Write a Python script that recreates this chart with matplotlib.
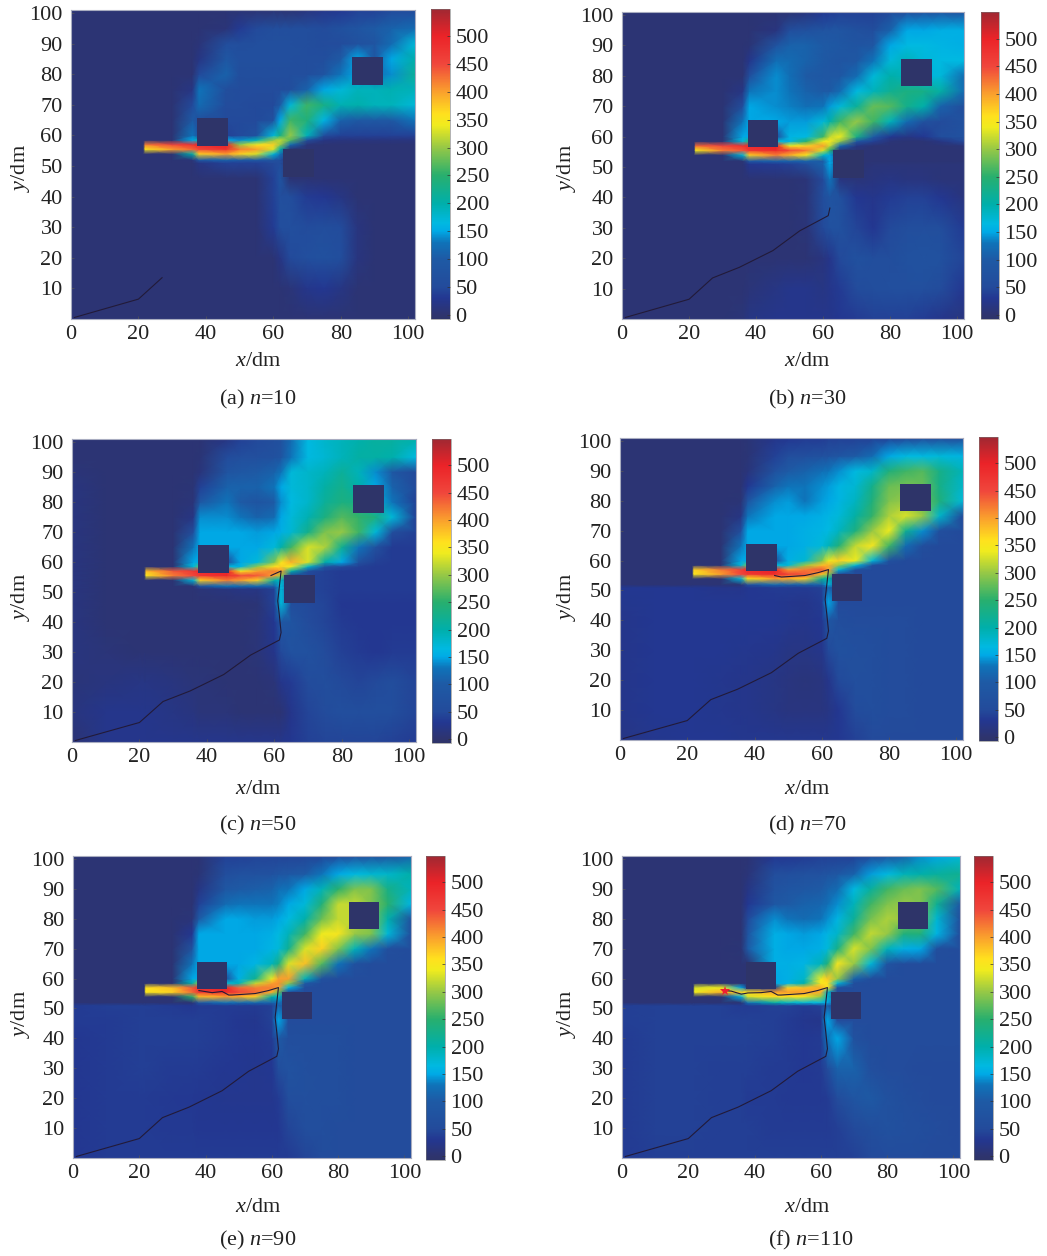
import numpy as np
import matplotlib
matplotlib.use("Agg")
import matplotlib.pyplot as plt
from matplotlib.colors import LinearSegmentedColormap, Normalize
from matplotlib.cm import ScalarMappable
from matplotlib.patches import Rectangle

plt.rcParams['font.family'] = ['Liberation Serif', 'DejaVu Serif']
plt.rcParams['mathtext.fontset'] = 'custom'
plt.rcParams['mathtext.it'] = 'Liberation Serif:italic'
plt.rcParams['mathtext.rm'] = 'Liberation Serif'

W, H = 1047, 1256

x_nodes = [0, 10, 20, 21.5, 22, 30, 36, 38, 46, 50, 55, 60, 62, 65, 70, 75, 80, 85, 90, 95, 102]
y_nodes = [101, 95, 90, 85, 80, 75, 70, 65, 60, 58.5, 57, 55.5, 54, 52, 51, 46, 40, 30, 20, 10, 0]

field_a = [
 [5,5,5,5,5,5,5,5,5,5,5,5,5,5,15,25,30,40,40,50,50],
 [5,5,5,5,5,5,5,5,10,35,50,60,60,60,60,55,70,85,100,110,120],
 [5,5,5,5,5,5,5,10,60,60,65,65,65,65,60,55,55,70,80,120,170],
 [5,5,5,5,5,5,5,20,90,65,65,65,65,65,60,60,100,150,90,150,200],
 [5,5,5,5,5,5,5,50,110,60,60,60,60,60,60,80,130,150,120,140,215],
 [5,5,5,5,5,5,20,130,60,55,55,55,55,60,110,150,170,190,190,195,190],
 [5,5,5,5,5,5,50,120,55,55,50,50,100,170,260,230,195,200,190,190,170],
 [5,5,5,5,5,5,100,60,50,50,50,70,150,260,240,160,110,95,95,95,130],
 [5,5,5,5,5,5,130,60,40,50,70,170,230,300,190,60,40,40,40,40,40],
 [5,5,5,5,5,5,150,200,150,140,190,300,320,270,60,20,15,15,15,15,15],
 [5,5,5,5,420,450,480,490,500,300,350,370,300,120,10,5,5,5,5,5,5],
 [5,5,5,5,350,400,430,450,480,420,400,330,200,5,5,5,5,5,5,5,5],
 [5,5,5,5,5,5,200,370,400,370,330,170,130,5,5,5,5,5,5,5,5],
 [5,5,5,5,5,5,10,100,110,100,100,80,60,5,5,5,5,5,5,5,5],
 [5,5,5,5,5,5,5,20,40,40,40,50,60,5,5,5,5,5,5,5,5],
 [5,5,5,5,5,5,5,5,5,5,5,40,80,5,5,5,5,5,5,5,5],
 [5,5,5,5,5,5,5,5,5,5,5,40,65,60,35,30,20,5,5,5,5],
 [5,5,5,5,5,5,5,5,5,5,5,35,60,65,55,60,55,15,5,5,5],
 [5,5,5,5,5,5,5,5,5,5,5,5,20,50,65,70,60,15,5,5,5],
 [5,5,5,5,5,5,5,5,5,5,5,5,5,10,25,30,20,5,5,5,5],
 [5,5,5,5,5,5,5,5,5,5,5,5,5,5,5,5,5,5,5,5,5],
]
field_b = [
 [5,5,5,5,5,5,5,5,5,5,15,30,35,40,40,40,50,60,70,80,70],
 [5,5,5,5,5,5,5,5,15,60,70,80,85,85,70,60,110,150,150,155,155],
 [5,5,5,5,5,5,5,8,80,110,110,100,95,90,80,90,150,165,165,160,155],
 [5,5,5,5,5,5,5,25,125,120,110,95,90,85,90,130,170,190,170,165,165],
 [5,5,5,5,5,5,5,60,140,125,100,90,90,90,120,170,200,190,160,170,120],
 [5,5,5,5,5,5,20,130,140,130,110,100,100,120,165,190,220,235,230,205,120],
 [5,5,5,5,5,5,60,150,140,135,125,130,145,170,215,280,270,225,200,110,60],
 [5,5,5,5,5,5,130,150,150,145,145,170,200,260,300,260,190,120,70,55,70],
 [5,5,5,5,5,5,150,150,45,160,165,260,320,340,230,100,30,20,30,60,75],
 [5,5,5,5,5,5,170,250,170,160,250,340,350,300,90,40,10,5,5,20,50],
 [5,5,5,5,430,450,480,490,500,340,370,400,320,120,20,5,5,5,5,5,10],
 [5,5,5,5,340,420,440,470,490,450,420,330,250,5,5,5,5,5,5,5,5],
 [5,5,5,5,5,5,170,370,420,390,350,180,150,5,5,5,5,5,5,5,5],
 [5,5,5,5,5,5,5,100,110,110,110,100,150,5,5,5,5,5,5,5,5],
 [5,5,5,5,5,5,5,30,35,40,60,110,150,5,5,10,10,10,10,10,10],
 [5,5,5,5,5,5,5,5,5,5,10,50,130,15,10,15,20,15,15,10,10],
 [5,5,5,5,5,5,5,5,5,5,10,60,80,70,30,25,35,40,40,30,15],
 [5,5,5,5,5,5,5,5,5,5,10,50,70,70,45,30,50,60,65,60,35],
 [5,5,5,5,5,5,5,5,5,5,5,15,25,50,70,60,60,70,75,70,45],
 [5,5,5,5,5,5,5,10,20,25,25,20,25,35,55,60,65,65,65,55,30],
 [5,5,5,5,5,5,10,20,25,25,25,25,25,30,35,40,40,40,35,25,15],
]
field_c = [
 [5,5,5,5,5,5,5,5,20,40,50,60,70,120,165,180,190,200,210,210,200],
 [5,5,5,5,5,5,5,8,55,65,65,70,80,130,165,175,190,205,205,200,165],
 [10,5,5,5,5,5,5,12,80,90,100,110,130,170,180,190,215,190,140,90,50],
 [15,5,5,5,5,5,8,40,110,110,110,130,150,170,180,205,225,200,150,110,50],
 [15,5,5,5,5,5,10,90,130,100,80,100,140,165,180,215,235,230,170,130,40],
 [15,5,5,5,5,5,20,140,140,130,110,120,150,170,195,235,270,255,235,170,40],
 [15,5,5,5,5,5,60,150,150,150,145,150,155,175,225,290,300,260,170,60,40],
 [15,5,5,5,5,5,130,150,150,150,150,170,200,260,330,310,220,130,70,35,35],
 [15,5,5,5,5,5,150,150,45,150,170,290,350,390,330,200,150,70,40,35,35],
 [15,5,5,5,5,5,170,280,170,160,300,360,370,340,180,80,50,40,35,35,35],
 [15,5,5,5,380,440,470,490,500,350,400,420,400,200,60,40,35,35,35,35,35],
 [15,5,5,5,350,420,450,470,490,450,440,400,300,45,45,40,35,35,35,35,35],
 [15,5,5,5,5,5,170,370,420,400,370,200,180,45,45,40,35,35,35,35,35],
 [15,5,5,5,5,5,5,80,130,120,120,110,170,45,45,40,35,35,35,35,35],
 [15,5,5,5,5,5,5,10,15,20,20,40,170,45,45,40,35,35,35,35,35],
 [15,5,5,5,5,5,5,5,5,5,8,40,170,60,50,45,30,30,30,30,30],
 [15,5,5,5,5,5,5,5,5,5,10,30,90,80,55,45,35,30,30,30,30],
 [15,10,5,5,5,5,5,5,5,5,10,25,50,75,70,55,40,35,30,35,35],
 [10,15,20,20,20,15,10,10,5,5,5,10,25,35,55,60,50,45,50,60,45],
 [15,25,25,25,25,20,15,10,10,5,5,5,5,25,45,55,65,60,65,60,45],
 [5,25,25,25,25,25,25,25,25,25,25,25,25,30,40,45,45,45,45,40,35],
]
field_d = [
 [5,5,5,5,5,5,5,8,25,30,35,35,40,40,40,40,40,45,50,50,50],
 [5,5,5,5,5,5,5,8,40,60,65,70,75,85,100,120,150,165,165,170,160],
 [5,5,5,5,5,5,5,12,70,100,110,125,130,140,165,180,240,260,270,230,190],
 [5,5,5,5,5,5,5,30,110,130,130,140,145,160,175,225,280,285,280,230,180],
 [5,5,5,5,5,5,8,80,140,145,130,145,150,160,185,240,290,300,280,240,170],
 [5,5,5,5,5,5,20,130,150,150,150,155,160,170,205,255,310,330,300,180,50],
 [5,5,5,5,5,5,60,150,150,150,155,160,165,185,235,300,340,220,140,65,50],
 [5,5,5,5,5,5,130,150,150,150,155,170,190,240,320,350,260,120,60,50,50],
 [5,5,5,5,5,5,150,150,45,155,175,290,340,370,340,170,70,50,50,50,50],
 [5,5,5,5,5,5,170,290,170,170,300,380,390,300,170,60,50,50,50,50,50],
 [5,5,5,5,370,420,460,490,500,400,420,440,400,170,60,50,50,50,50,50,50],
 [5,5,5,5,350,400,450,470,490,460,440,380,300,50,50,50,50,50,50,50,50],
 [5,5,5,5,5,5,170,350,400,390,370,220,200,50,50,50,50,50,50,50,50],
 [5,5,5,5,5,5,5,70,120,110,110,110,170,50,50,50,50,50,50,50,50],
 [30,30,30,30,30,25,25,30,35,35,35,40,110,50,50,50,50,50,50,50,50],
 [28,30,30,30,30,30,30,30,30,28,25,35,150,50,50,50,50,50,50,50,50],
 [25,30,30,30,30,30,30,30,30,28,25,30,90,60,55,55,55,55,50,50,50],
 [25,30,30,30,30,30,28,28,25,20,20,25,50,70,65,60,55,55,50,50,50],
 [25,30,30,30,30,28,25,25,20,15,12,15,25,50,65,60,55,55,50,50,50],
 [25,30,30,30,30,28,25,25,20,15,15,15,20,30,55,60,55,55,50,50,50],
 [20,28,30,30,30,30,28,28,28,28,28,28,28,30,40,50,50,50,50,50,50],
]
field_e = [
 [5,5,5,5,5,5,5,5,40,40,45,45,45,45,45,45,50,60,70,80,110],
 [5,5,5,5,5,5,5,8,60,70,70,75,85,90,100,130,150,165,175,180,200],
 [5,5,5,5,5,5,5,20,90,100,105,110,125,130,150,190,250,290,290,230,190],
 [5,5,5,5,5,5,5,40,120,130,130,130,135,150,170,240,320,320,290,250,160],
 [5,5,5,5,5,5,10,100,150,150,145,145,150,165,200,280,320,320,290,200,70],
 [5,5,5,5,5,5,30,150,150,150,150,155,165,190,260,340,350,300,290,170,60],
 [5,5,5,5,5,5,80,150,150,150,150,160,170,220,330,370,290,190,130,65,55],
 [5,5,5,5,5,5,130,150,150,150,160,190,230,330,380,270,130,70,55,55,55],
 [5,5,5,5,5,5,150,150,45,155,220,340,400,400,190,70,55,55,55,55,55],
 [5,5,5,5,5,5,200,300,170,190,320,400,410,300,100,55,55,55,55,55,55],
 [5,5,5,5,360,380,440,480,500,430,420,420,400,160,55,55,55,55,55,55,55],
 [5,5,5,5,350,370,430,470,490,450,430,390,280,55,55,55,55,55,55,55,55],
 [5,5,5,5,5,5,250,380,400,390,370,200,180,55,55,55,55,55,55,55,55],
 [5,5,5,5,5,5,5,90,130,120,120,110,130,55,55,55,55,55,55,55,55],
 [35,38,38,38,38,35,30,35,35,35,35,40,110,55,55,55,55,55,55,55,55],
 [35,35,38,38,38,38,38,38,35,30,28,40,150,55,55,55,55,55,55,55,55],
 [30,35,38,38,38,38,38,38,35,32,30,35,100,60,60,60,60,55,55,55,55],
 [30,35,38,38,38,35,35,35,30,30,28,30,60,75,65,60,60,55,55,55,55],
 [30,35,35,35,35,33,32,30,28,28,28,28,35,60,65,60,60,55,55,55,55],
 [30,35,35,35,35,33,33,30,30,30,30,30,32,45,60,60,55,55,55,55,55],
 [30,35,35,35,35,35,35,35,35,35,35,35,35,35,45,55,55,55,55,55,55],
]
field_f = [
 [5,5,5,5,5,5,5,5,30,30,35,40,40,40,40,50,80,110,140,150,170],
 [5,5,5,5,5,5,5,10,60,65,70,75,80,90,110,145,165,190,200,210,220],
 [5,5,5,5,5,5,5,20,75,85,90,100,110,120,165,210,260,280,290,270,190],
 [5,5,5,5,5,5,5,30,90,100,110,115,125,140,190,260,290,300,290,220,90],
 [5,5,5,5,5,5,5,50,140,130,120,130,140,160,215,285,310,300,280,175,60],
 [5,5,5,5,5,5,5,80,155,150,145,150,160,180,260,320,300,240,240,160,55],
 [5,5,5,5,5,5,8,100,155,150,150,155,170,230,330,290,190,155,150,60,55],
 [5,5,5,5,5,5,5,5,155,155,160,190,240,350,300,170,80,55,55,55,55],
 [5,5,5,5,5,5,5,5,150,155,180,340,375,300,110,60,55,55,55,55,55],
 [5,5,5,5,5,5,5,5,150,160,200,350,360,170,60,55,55,55,55,55,55],
 [5,5,5,5,330,340,150,20,20,370,380,390,350,60,55,55,55,55,55,55,55],
 [5,5,5,5,340,390,370,360,400,400,400,390,180,55,55,55,55,55,55,55,55],
 [5,5,5,5,5,5,160,330,360,360,350,300,180,55,55,55,55,55,55,55,55],
 [5,5,5,5,5,5,5,130,200,180,170,165,150,55,55,55,55,55,55,55,55],
 [38,40,40,40,40,40,35,35,40,40,35,40,100,55,55,55,55,55,55,55,55],
 [38,40,40,40,40,40,40,40,38,35,28,25,150,55,55,55,55,55,55,55,55],
 [35,40,40,40,40,40,40,40,38,35,32,35,130,150,70,55,55,55,55,55,55],
 [35,40,40,40,40,38,38,38,35,35,32,35,55,110,110,65,55,55,50,50,50],
 [35,40,40,40,40,38,38,35,35,33,33,33,35,55,85,95,70,60,55,50,50],
 [35,40,40,40,40,38,38,38,35,35,35,35,35,38,50,60,70,65,60,55,50],
 [35,38,38,38,38,38,38,38,38,38,38,38,38,38,40,50,55,55,55,50,50],
]

# path of the moving agent (all panels follow the same route, then stop at different points)
path_x_a = [1, 20, 27]
path_y_a = [0.5, 6.5, 13.5]
path_x_b = [1, 20, 27, 35, 45, 53, 61.5, 62]
path_y_b = [0.5, 6.5, 13.5, 17, 22.5, 29, 34, 36.5]
path_x_c = path_x_b + [61.5, 61, 61.5, 62, 59]
path_y_c = path_y_b + [42, 47, 52, 57, 55.5]
path_x_d = path_x_c[:-1] + [59, 55, 48, 46]
path_y_d = path_y_c[:-1] + [56, 55, 54.5, 55]
path_x_e = path_x_d[:-1] + [47, 45, 42, 38]
path_y_e = path_y_d[:-1] + [54.5, 55.7, 55.3, 56]
path_x_f = path_x_e + [36, 33, 31]
path_y_f = path_y_e[:-1] + [55.2, 54.8, 55.8, 56]

boxes = [(37.5, 56.5), (83.3, 76.5), (63, 46.5)]
box_size = 9.1

cmap_values = [-7, 0, 30, 50, 100, 130, 150, 165, 200, 250, 300, 340, 360, 400, 450, 500, 548]
cmap_colors = [(46,52,105),(46,52,110),(35,55,145),(35,75,155),(30,90,165),(15,115,185),(0,170,230),
               (0,185,225),(0,175,170),(40,175,110),(150,200,70),(240,235,30),(255,225,30),
               (250,160,45),(240,70,60),(235,35,40),(160,40,50)]
cmap = LinearSegmentedColormap.from_list(
    'temp', [((v + 7) / 555, tuple(c / 255 for c in col)) for v, col in zip(cmap_values, cmap_colors)], N=512)
norm = Normalize(-7, 548)

panels = [
    dict(f=field_a, px=path_x_a, py=path_y_a, cap='(a) $n$=10', ax=(71, 415, 10, 319), cb=(431, 450, 9, 319),
         cap_xy=(258, 399), xl_xy=(258, 362), yl_xy=(20, 168)),
    dict(f=field_b, px=path_x_b, py=path_y_b, cap='(b) $n$=30', ax=(622, 964, 12, 319), cb=(981, 999, 12, 319),
         cap_xy=(807, 399), xl_xy=(807, 362), yl_xy=(567, 168)),
    dict(f=field_c, px=path_x_c, py=path_y_c, cap='(c) $n$=50', ax=(72, 416, 439, 742), cb=(432, 451, 439, 743),
         cap_xy=(258, 825), xl_xy=(258, 789), yl_xy=(20, 597)),
    dict(f=field_d, px=path_x_d, py=path_y_d, cap='(d) $n$=70', ax=(620, 963, 438, 740), cb=(979, 998, 437, 741),
         cap_xy=(807, 825), xl_xy=(807, 789), yl_xy=(567, 597)),
    dict(f=field_e, px=path_x_e, py=path_y_e, cap='(e) $n$=90', ax=(73, 411, 856, 1158), cb=(426, 445, 856, 1160),
         cap_xy=(258, 1240), xl_xy=(258, 1208), yl_xy=(20, 1014)),
    dict(f=field_f, px=path_x_f, py=path_y_f, cap='(f) $n$=110', ax=(622, 960, 856, 1158), cb=(974, 993, 856, 1160),
         cap_xy=(811, 1240), xl_xy=(807, 1208), yl_xy=(567, 1014)),
]

fig = plt.figure(figsize=(W / 100, H / 100), dpi=100, facecolor='white')
FS = 16
TXT = '#222222'

def px_axes(l, r, t, b):
    return fig.add_axes([l / W, 1 - b / H, (r - l) / W, (b - t) / H])

for p in panels:
    ax = px_axes(*p['ax'])
    Z = np.array(p['f'], dtype=float)[::-1]
    ax.pcolormesh(np.array(x_nodes), np.array(y_nodes)[::-1], Z, shading='gouraud', cmap=cmap, norm=norm, rasterized=True)
    for bx, by in boxes:
        ax.add_patch(Rectangle((bx, by), box_size, box_size, facecolor=(46/255, 52/255, 105/255), edgecolor='none', zorder=3))
    ax.plot(p['px'], p['py'], color='#221a38', lw=0.8, zorder=4)
    if p is panels[-1]:
        ax.plot([31], [56], marker='*', color='#f02030', ms=7, mew=0, zorder=5)
    ax.set_xlim(0, 102)
    ax.set_ylim(0, 101)
    ax.set_xticks([0, 20, 40, 60, 80, 100])
    ax.set_yticks(list(range(10, 101, 10)))
    ax.tick_params(axis='both', labelsize=FS, length=2, width=0.5, direction='in', color='#555555', labelcolor=TXT, pad=4)
    ax.tick_params(axis='y', pad=6)
    for s in ax.spines.values():
        s.set_color('#a8acc0')
        s.set_linewidth(0.8)

    cax = px_axes(*p['cb'])
    cb = fig.colorbar(ScalarMappable(norm=norm, cmap=cmap), cax=cax)
    cb.set_ticks(list(range(0, 501, 50)))
    cb.ax.tick_params(labelsize=FS, length=2, width=0.5, direction='in', color='#333333', labelcolor=TXT, pad=4)
    cb.outline.set_linewidth(0.4)
    cb.outline.set_edgecolor('#777777')

    fig.text(p['xl_xy'][0] / W, 1 - p['xl_xy'][1] / H, '$x$/dm', ha='center', va='center', fontsize=FS, color=TXT)
    fig.text(p['yl_xy'][0] / W, 1 - p['yl_xy'][1] / H, '$y$/dm', ha='center', va='center', rotation=90, fontsize=FS, color=TXT)
    fig.text(p['cap_xy'][0] / W, 1 - p['cap_xy'][1] / H, p['cap'], ha='center', va='center', fontsize=FS, color=TXT)

fig.savefig('out.png', dpi=100)
